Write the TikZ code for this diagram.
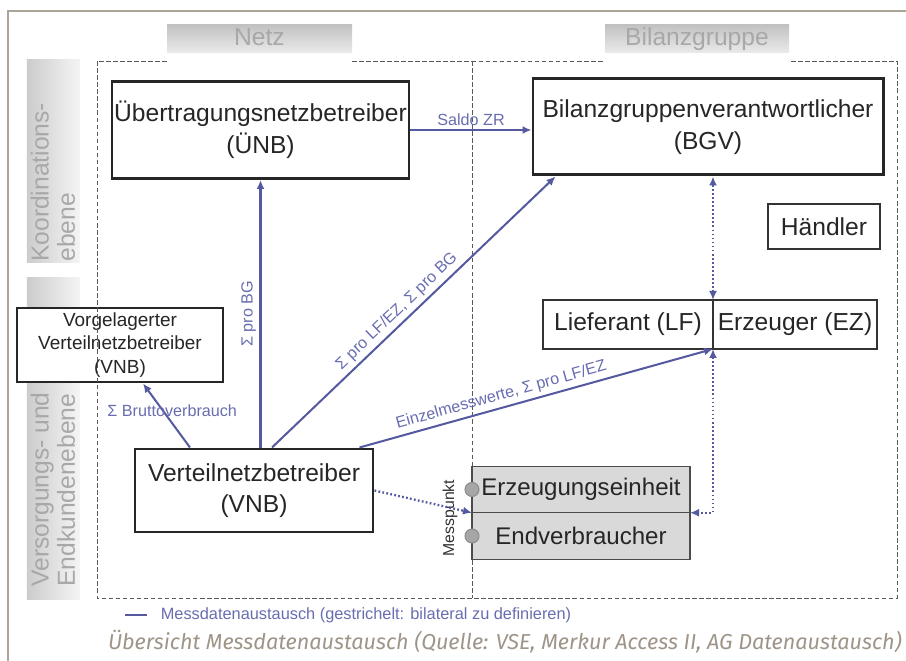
\documentclass[tikz,border=0pt]{standalone}
\usepackage{fontspec}
\setmainfont{Liberation Sans}
\newfontfamily\capfont{Fira Sans}
\usetikzlibrary{arrows.meta, calc, positioning}
\definecolor{msgblue}{RGB}{84,89,160}
\definecolor{lblblue}{RGB}{104,109,176}
\definecolor{frametaupe}{RGB}{173,165,153}
\definecolor{captaupe}{RGB}{158,148,136}
\definecolor{unitgray}{RGB}{217,217,217}
\definecolor{headgray}{RGB}{168,168,168}
\tikzset{> = { Latex[length = 1.8mm, width = 1.6mm] }}
\tikzset{
	rolebox/.style = {draw = black!85, line width = 1.7pt, align = center, inner sep = 0pt, text = black!85, font = \fontsize{14}{18}\selectfont},
	partbox/.style = {draw = black!80, line width = 0.8pt, inner sep = 0pt, outer sep = 0pt, text = black!85, font = \fontsize{14}{17}\selectfont},
	unitbox/.style = {partbox, fill = unitgray, draw = black!70, minimum width = 4.36cm, minimum height = 0.93cm, font = \fontsize{13.7}{17}\selectfont},
	mpoint/.style = {circle, draw = black!45, fill = black!35, line width = 0.6pt, minimum size = 0.28cm, inner sep = 0pt},
	headbox/.style = {top color = black!24, bottom color = black!8, text = headgray, font = \fontsize{14}{17}\selectfont, minimum height = 0.56cm, inner sep = 0pt, text height = 10pt, text depth = 3pt},
	tiertext/.style = {rotate = 90, anchor = west, align = left, inner sep = 0pt, text = headgray, font = \fontsize{14}{15}\selectfont},
	zoneline/.style = {black!65, line width = 0.5pt, dash pattern = on 2.6pt off 1.4pt},
	msgline/.style = {msgblue, line width = 1.15pt},
	bilatline/.style = {msgblue, line width = 1.3pt, dash pattern = on 1pt off 1.3pt},
	msglbl/.style = {text = lblblue, font = \fontsize{9.2}{11}\selectfont, inner sep = 2pt}
}

\begin{document}
\begin{tikzpicture}
	\useasboundingbox (0, 0) rectangle (18.12, 13.22);
	\draw [frametaupe, line width = 1.4pt] (0.16, 0) -- (0.16, 13.0) -- (18.12, 13.0);

	% Ebenen
	\shade [left color = black!20, right color = black!4] (0.54, 7.96) rectangle (1.6, 12.02);
	\shade [left color = black!20, right color = black!4] (0.54, 1.22) rectangle (1.6, 7.66);
	\node [tiertext] (koord) at (1.06, 7.98) {Koordinations-\\ebene};
	\node [tiertext] (versorg) at (1.06, 1.48) {Versorgungs- und\\Endkundenebene};

	\node [rolebox, fill = white, minimum width = 4.12cm, minimum height = 1.48cm, font = \fontsize{10.8}{13.3}\selectfont] (vvnb) at (2.4, 6.32) {Vorgelagerter\\Verteilnetzbetreiber\\(VNB)};

	% Netz / Bilanzgruppe
	\node [headbox, minimum width = 3.7cm] (netz) at (5.19, 12.44) {Netz};
	\node [headbox, minimum width = 3.68cm] (bg) at (13.94, 12.44) {Bilanzgruppe};
	\draw [zoneline] (3.34, 12) -| (1.94, 1.26) -| (17.94, 12) -- (15.78, 12);
	\draw [zoneline] (7.04, 12) -- (12.1, 12);
	\draw [zoneline] (9.44, 12) -- (9.44, 1.26);

	\node [rolebox, minimum width = 5.94cm, minimum height = 1.94cm] (uenb) at (5.21, 10.62) {Übertragungsnetzbetreiber\\(ÜNB)};
	\node [rolebox, minimum width = 7cm, minimum height = 1.92cm] (bgv) at (14.16, 10.68) {Bilanzgruppenverantwortlicher\\(BGV)};
	\node [partbox, minimum width = 2.24cm, minimum height = 0.9cm] (hdl) at (16.48, 8.69) {Händler};
	\node [partbox, minimum width = 3.4cm, minimum height = 0.98cm] (lf) at (12.56, 6.73) {Lieferant (LF)};
	\node [partbox, minimum width = 3.28cm, minimum height = 0.98cm, right = 0pt of lf] (ez) {Erzeuger (EZ)};
	\node [rolebox, minimum width = 4.76cm, minimum height = 1.66cm] (vnb) at (5.08, 3.41) {Verteilnetzbetreiber\\(VNB)};

	\node [unitbox] (ee) at (11.62, 3.43) {Erzeugungseinheit};
	\node [unitbox, below = 0pt of ee] (ev) {Endverbraucher};
	\node [mpoint] (mpA) at (ee.west) {};
	\node [mpoint] (mpB) at (ev.west) {};
	\node [rotate = 90, text = black!80, font = \fontsize{9}{10}\selectfont] (mp) at (9.0, 2.86) {Messpunkt};

	% Messdaten
	\draw [msgline, ->] (uenb.east) -- node [above, msglbl] {Saldo ZR} (uenb.east -| bgv.west);
	\draw [msgline, ->] (vnb.north -| uenb.south) -- node [midway, sloped, above, msglbl] {Σ pro BG} (uenb.south);
	\draw [msgline, ->] ([xshift = 3.6mm] vnb.north) -- node [pos = 0.47, sloped, above, msglbl] {Σ pro LF/EZ, Σ pro BG} ([xshift = 4.8mm] bgv.south west);
	\draw [msgline, ->] ([xshift = -3mm] vnb.north east) -- node [pos = 0.41, sloped, above, msglbl] {Einzelmesswerte, Σ pro LF/EZ} (lf.south east);
	\draw [msgline, ->] ([xshift = -12.8mm] vnb.north) -- node [pos = 0.57, xshift = 1.8mm, msglbl] {Σ Bruttoverbrauch} ([xshift = 4.6mm] vvnb.south);

	\draw [bilatline, ->] (vnb.east) -- (ee.south west);
	\draw [bilatline, <->] (lf.north east) -- (lf.north east |- bgv.south);
	\draw [bilatline, <->] (lf.south east) |- (ee.south east);

	\node [anchor = west, msglbl, font = \fontsize{9.3}{10}\selectfont] (leg) at (3.14, 0.92) {Messdatenaustausch (gestrichelt: bilateral zu definieren)};
	\draw [msgline] ([xshift = -6.4mm] leg.west) -- ([xshift = -2mm] leg.west);

	\node [anchor = base east, inner sep = 0pt, text = captaupe, font = \capfont\itshape\fontsize{12.3}{14}\selectfont] (cap) at (18.04, 0.22) {Übersicht Messdatenaustausch (Quelle: VSE, Merkur Access II, AG Datenaustausch)};
\end{tikzpicture}
\end{document}
